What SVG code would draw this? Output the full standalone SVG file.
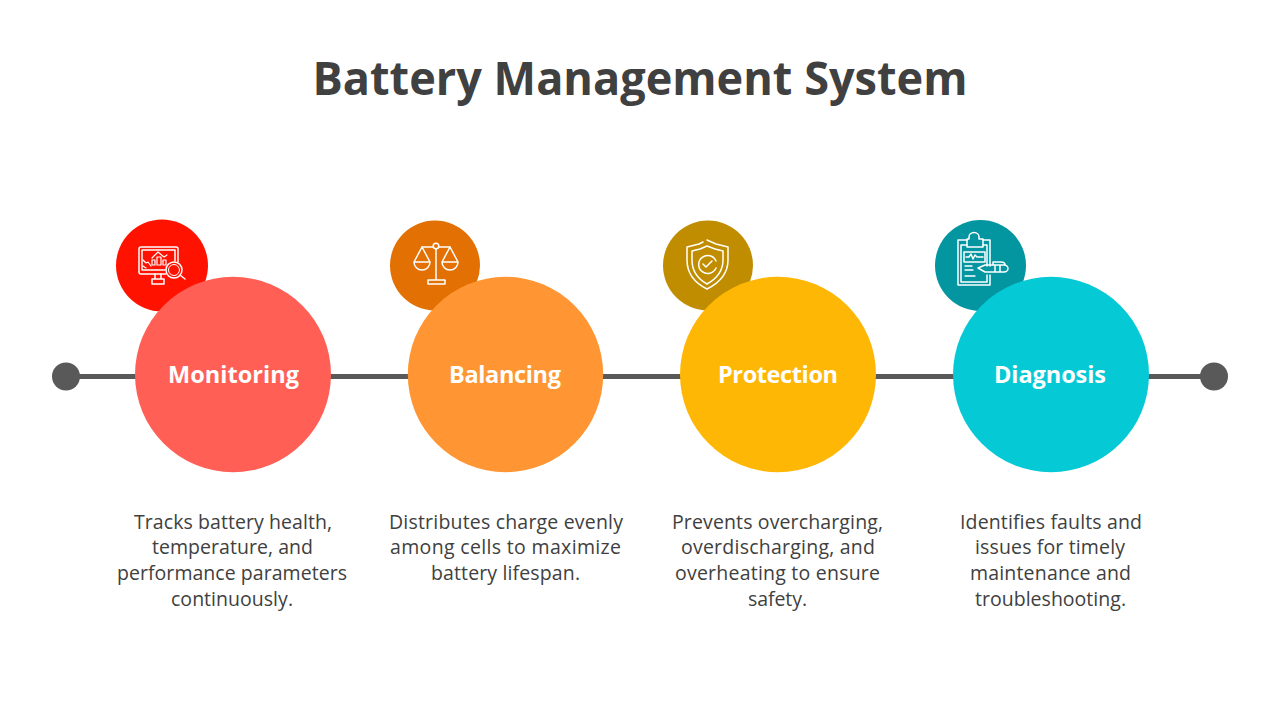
<svg xmlns="http://www.w3.org/2000/svg" width="1280" height="720" viewBox="0 0 1280 720">
<style>
text{font-family:"Open Sans","Noto Sans","Liberation Sans",sans-serif}
.t{font-size:47px;font-weight:700;fill:#404040}
.l{font-size:23.500px;font-weight:700;fill:#fff}
.d{font-size:19.500px;fill:#404040}
.i{fill:none;stroke:#fff;stroke-width:1.500;stroke-linejoin:round;stroke-linecap:round}
.n{fill:#595959}
</style>
<rect width="1280" height="720" fill="#fff"/>
<text id="title" class="t" x="312.500" y="95" textLength="655" lengthAdjust="spacingAndGlyphs">Battery Management System</text>
<g id="connectors"><line x1="66" y1="376.500" x2="1214" y2="376.500" stroke="#595959" stroke-width="5"/></g>
<g id="start"><circle class="n" cx="66" cy="376.500" r="14"/></g>
<g id="end"><circle class="n" cx="1214" cy="376.500" r="14"/></g>
<g id="monitoring">
<circle cx="162" cy="265.500" r="46" fill="#ff1300"/>
<g class="i">
<path d="M166 274H141a2 2 0 0 1-2-2V249a2 2 0 0 1 2-2H176a2 2 0 0 1 2 2V262"/>
<path d="M165 270H142V250H175V261M155 274V279M161 274V279M152 284V279H164V284Z"/>
<path d="M152 258L158 252L164 257L167 255M143 260l3 3 2-1 3 4M143 266l3 2" stroke-width="1.200"/>
<path d="M152 260h3v5h-3zM157 257h4v8h-4zM163 260h3v5h-3z" stroke-width="1.200"/>
<circle cx="174" cy="270" r="8"/><circle cx="174" cy="270" r="5.500" stroke-width="1"/><path d="M180 275l5 4"/>
</g>
<ellipse cx="233" cy="374.500" rx="98" ry="97.700" fill="#ff5f55"/>
<text class="l" x="168" y="383" textLength="131">Monitoring</text>
<g class="d">
<text x="134" y="529" textLength="198">Tracks battery health,</text>
<text x="152" y="554" textLength="161">temperature, and</text>
<text x="117" y="580" textLength="230">performance parameters</text>
<text x="171" y="605.500" textLength="122">continuously.</text>
</g>
</g>
<g id="balancing">
<circle cx="435" cy="265.500" r="45" fill="#e27003"/>
<g class="i">
<path d="M436 249V280M433 247H422M439 247H450M428 280H445V284H428Z"/><circle cx="436" cy="246" r="2.800"/>
<path d="M414 262H430a8 8 0 0 1-16 0ZM414 262L422 247L430 262M442 262H458a8 8 0 0 1-16 0ZM442 262L450 247L458 262"/>
</g>
<circle cx="505.500" cy="374.500" r="97.700" fill="#ff9633"/>
<text class="l" x="449" y="383" textLength="112">Balancing</text>
<g class="d">
<text x="389" y="529" textLength="234">Distributes charge evenly</text>
<text x="390" y="554" textLength="231">among cells to maximize</text>
<text x="431" y="580" textLength="149">battery lifespan.</text>
</g>
</g>
<g id="protection">
<circle cx="708" cy="265.500" r="45" fill="#c18d00"/>
<g class="i">
<path d="M707 240l9 4 12 3v13c0 14-9 23-21 29-12-6-20-15-20-29V247l12-3 4-2"/>
<path d="M707 246l8 3 8 2v9c0 11-7 19-16 24-9-5-15-13-15-24V251l8-2z"/>
<path d="M716 268a9 9 0 1 1 0-7"/><path d="M703 264l3 3 6-6"/>
</g>
<ellipse cx="778" cy="374.500" rx="98" ry="97.700" fill="#ffb705"/>
<text class="l" x="718" y="383" textLength="120">Protection</text>
<g class="d">
<text x="672" y="529" textLength="211">Prevents overcharging,</text>
<text x="681" y="554" textLength="194">overdischarging, and</text>
<text x="675" y="580" textLength="205">overheating to ensure</text>
<text x="748" y="605.500" textLength="59">safety.</text>
</g>
</g>
<g id="diagnosis">
<circle cx="980.500" cy="265.500" r="45.500" fill="#0396a0"/>
<g class="i">
<path d="M990 275V285H958V240H967M983 240H990V266"/><path d="M967 245H961V282H987V275M983 245H987V266"/>
<path d="M967 239H969V237a5 4.500 0 0 1 10 0V239H983V247H967Z"/>
<path d="M964 252H985V262H964ZM966 257h3l2-3 2 5 2-4 2 2h6"/>
<path d="M965 266H972M965 270H973M965 276H975" stroke-width="1.300"/>
<path d="M978 268L985 265H1004a4 3.500 0 0 1 0 7H985ZM1000 265v7M995 265v7M993 265V262h8q4 0 4 3"/>
</g>
<ellipse cx="1051" cy="374.500" rx="98" ry="97.700" fill="#06c9d6"/>
<text class="l" x="994" y="383" textLength="112">Diagnosis</text>
<g class="d">
<text x="960" y="529" textLength="182">Identifies faults and</text>
<text x="975" y="554" textLength="150">issues for timely</text>
<text x="970" y="580" textLength="161">maintenance and</text>
<text x="975" y="605.500" textLength="151">troubleshooting.</text>
</g>
</g>
</svg>
